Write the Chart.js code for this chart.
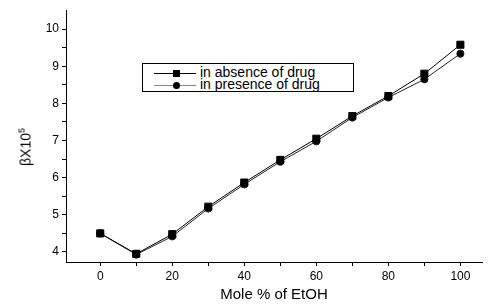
<!DOCTYPE html>
<html>
<head>
<meta charset="utf-8">
<script src="https://cdn.jsdelivr.net/npm/chart.js@4.4.0/dist/chart.umd.min.js"></script>
<style>
  html,body{margin:0;padding:0;background:#fff;}
  #wrap{position:relative;width:488px;height:308px;font-family:"Liberation Sans",Arial,sans-serif;}
  #c{position:absolute;left:0;top:0;}
  #ytitle{position:absolute;left:25px;top:147px;transform:translate(-50%,-50%) rotate(-90deg);font-size:14px;white-space:nowrap;color:#000;}
  #ytitle sup{font-size:9px;vertical-align:6px;}
  #legend{position:absolute;left:142px;top:63px;width:210px;height:27px;border:1px solid #000;background:#fff;font-size:14px;color:#000;}
  .row{position:absolute;left:0;height:14px;line-height:14px;}
  .ln{position:absolute;left:11px;top:7px;width:42px;height:1px;}
  .mk{position:absolute;left:30px;top:4px;width:7px;height:7px;background:#000;}
  .txt{position:absolute;left:57px;top:-1px;white-space:nowrap;}
</style>
</head>
<body>
<div id="wrap">
  <canvas id="c" width="488" height="308"></canvas>
  <div id="ytitle">βX10<sup>5</sup></div>
  <div id="legend">
    <div class="row" style="top:2px;"><div class="ln" style="background:#000"></div><div class="mk"></div><div class="txt">in absence of drug</div></div>
    <div class="row" style="top:14px;"><div class="ln" style="background:#888"></div><div class="mk" style="border-radius:50%"></div><div class="txt">in presence of drug</div></div>
  </div>
</div>
<script>
const molePercent = [0, 10, 20, 30, 40, 50, 60, 70, 80, 90, 100];
const absenceOfDrug = [4.50, 3.95, 4.48, 5.22, 5.87, 6.48, 7.05, 7.66, 8.20, 8.80, 9.58];
const presenceOfDrug = [4.50, 3.93, 4.42, 5.17, 5.82, 6.43, 6.98, 7.62, 8.16, 8.65, 9.34];
const xTickValues = [0, 10, 20, 30, 40, 50, 60, 70, 80, 90, 100];
const xTickLabels = {0:'0', 20:'20', 40:'40', 60:'60', 80:'80', 100:'100'};
const yTickValues = [4, 4.5, 5, 5.5, 6, 6.5, 7, 7.5, 8, 8.5, 9, 9.5, 10];
const yTickLabels = {4:'4', 5:'5', 6:'6', 7:'7', 8:'8', 9:'9', 10:'10'};

const FONT = '"Liberation Sans", Arial, sans-serif';
const toXY = (vals) => molePercent.map((x, i) => ({x: x, y: vals[i]}));

new Chart(document.getElementById('c'), {
  type: 'scatter',
  data: {
    datasets: [
      {
        label: 'in absence of drug',
        data: toXY(absenceOfDrug),
        showLine: true,
        borderColor: '#000',
        backgroundColor: '#000',
        borderWidth: 1,
        pointStyle: 'rect',
        pointRadius: 5,
        pointHoverRadius: 5
      },
      {
        label: 'in presence of drug',
        data: toXY(presenceOfDrug),
        showLine: true,
        borderColor: '#222',
        backgroundColor: '#000',
        borderWidth: 1,
        pointStyle: 'circle',
        pointRadius: 3.6,
        pointHoverRadius: 3.6
      }
    ]
  },
  options: {
    responsive: false,
    animation: false,
    layout: {padding: {top: 10, right: 5, left: 0, bottom: 0}},
    plugins: {legend: {display: false}, tooltip: {enabled: false}},
    scales: {
      x: {
        type: 'linear',
        min: -9.5,
        max: 106,
        afterBuildTicks: (s) => { s.ticks = xTickValues.map(v => ({value: v})); },
        afterFit: (s) => { s.height = 46; },
        ticks: {
          autoSkip: false,
          maxRotation: 0,
          color: '#000',
          font: {family: FONT, size: 12},
          padding: 3,
          callback: (v) => xTickLabels[v] !== undefined ? xTickLabels[v] : ''
        },
        grid: {drawOnChartArea: false, drawTicks: true, tickLength: 4, color: '#000'},
        border: {display: true, color: '#000', width: 1},
        title: {display: true, text: 'Mole % of EtOH', color: '#000', font: {family: FONT, size: 15}, padding: {top: 1}}
      },
      y: {
        type: 'linear',
        min: 3.73,
        max: 10.51,
        afterBuildTicks: (s) => { s.ticks = yTickValues.map(v => ({value: v})); },
        afterFit: (s) => { s.width = 66; },
        ticks: {
          autoSkip: false,
          color: '#000',
          font: {family: FONT, size: 12},
          padding: 3,
          callback: (v) => yTickLabels[v] !== undefined ? yTickLabels[v] : ''
        },
        grid: {drawOnChartArea: false, drawTicks: true, tickLength: 4, color: '#000'},
        border: {display: true, color: '#000', width: 1}
      }
    }
  }
});
</script>
</body>
</html>
